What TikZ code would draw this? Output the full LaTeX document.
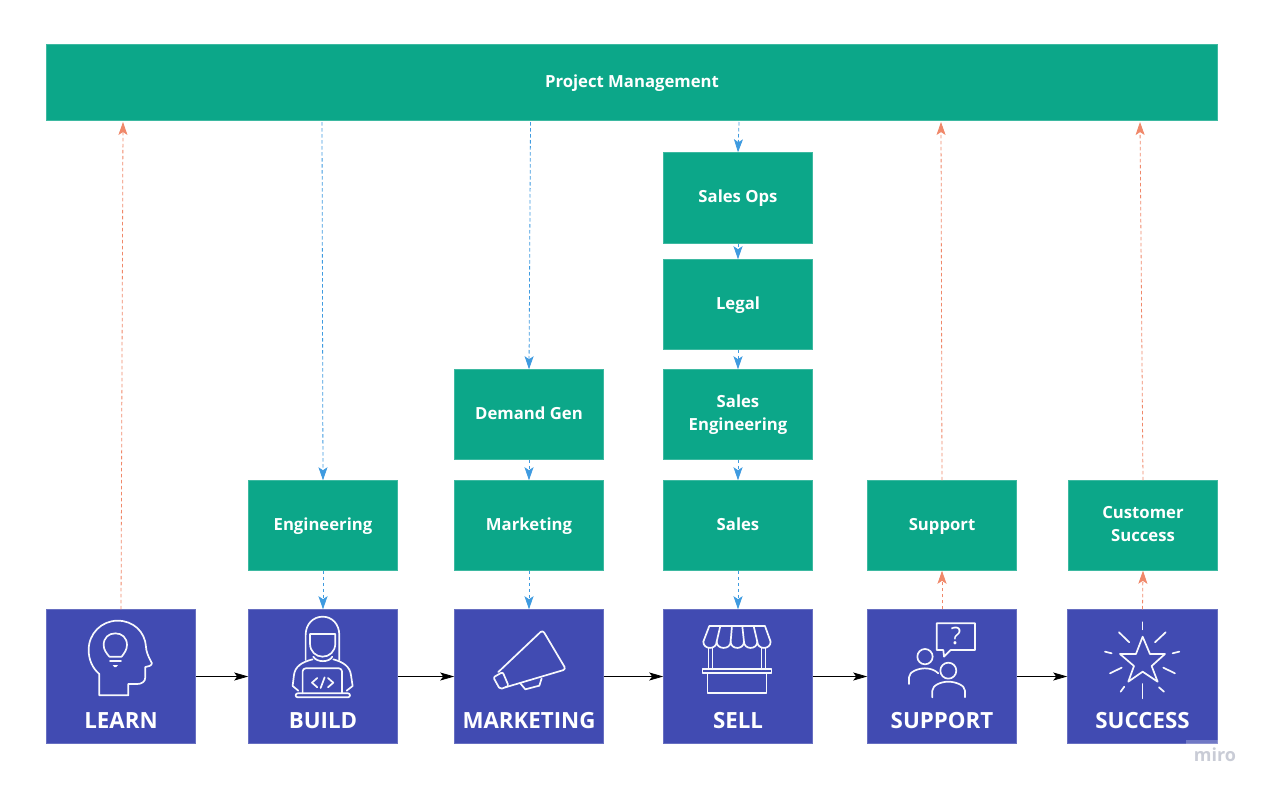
\documentclass[tikz,border=0pt]{standalone}
\usepackage{fontspec}
\setmainfont{Open Sans}
\usetikzlibrary{arrows.meta}
\definecolor{gr}{HTML}{0CA789}
\definecolor{bl}{HTML}{414BB2}
\definecolor{arrB}{HTML}{3F9BE0}
\definecolor{arrO}{HTML}{F0886A}
\definecolor{mir}{HTML}{C9CCD6}
\newcommand{\lnst}{\rule[-7pt]{0pt}{23pt}}
\tikzset{
 gbox/.style={fill=gr,draw=gr!80!white,line width=.5pt,text=white,inner sep=0pt,align=center,font=\bfseries\fontsize{16.7}{23}\selectfont,minimum width=149pt,minimum height=90pt},
 bbox/.style={fill=bl,draw=bl!80!white,line width=.5pt,inner sep=0pt,minimum width=149pt,minimum height=134pt},
 blabel/.style={text=white,inner sep=0pt,font=\bfseries\fontsize{22.3}{26}\selectfont},
 down/.style={draw=arrB,line width=.8pt,dash pattern=on 3.5pt off 2.5pt,-{Stealth[length=13pt,width=9pt,inset=3pt]}},
 upar/.style={draw=arrO,line width=.8pt,dash pattern=on 3.5pt off 2.5pt,-{Stealth[length=13pt,width=9pt,inset=3pt]}},
 flow/.style={draw=black,line width=.8pt,-{Stealth[length=14pt,width=8pt,inset=3pt]}},
 icon/.style={draw=white!96!bl,line width=1.7pt,line join=round,line cap=round,x=.3333pt,y=-.3333pt},
}
\begin{document}
\begin{tikzpicture}[x=1pt,y=-1pt]
\useasboundingbox (0,0) rectangle (1264,790);
\fill[white] (0,0) rectangle (1264,790);
% Top bar
\node[gbox,minimum width=1171pt,minimum height=76pt] (pm) at (632,82.5) {\lnst Project Management};
% Green boxes
\node[gbox] (eng) at (323,525.5) {\lnst Engineering};
\node[gbox] (dem) at (529,414.5) {\lnst Demand Gen};
\node[gbox] (mkt) at (529,525.5) {\lnst Marketing};
\node[gbox,minimum height=91pt] (ops) at (738,198) {\lnst Sales Ops};
\node[gbox] (leg) at (738,304.5) {\lnst Legal};
\node[gbox] (seng) at (738,414.5) {\lnst Sales\\\lnst Engineering};
\node[gbox] (sal) at (738,525.5) {\lnst Sales};
\node[gbox] (sup) at (942,525.5) {\lnst Support};
\node[gbox] (cs) at (1143,525.5) {\lnst Customer\\\lnst Success};
% Blue boxes
\node[bbox] (learn) at (121,676.5) {};
\node[bbox] (build) at (323,676.5) {};
\node[bbox] (mark) at (529,676.5) {};
\node[bbox] (sell) at (738,676.5) {};
\node[bbox] (supp) at (942,676.5) {};
\node[bbox,minimum width=150pt] (succ) at (1142.5,676.5) {};
\node[blabel] (learnT) at (121,720.5) {LEARN};
\node[blabel] (buildT) at (323,720.5) {BUILD};
\node[blabel] (markT) at (529,720.5) {MARKETING};
\node[blabel] (sellT) at (738,720.5) {SELL};
\node[blabel] (suppT) at (942,720.5) {SUPPORT};
\node[blabel] (succT) at (1142.5,720.5) {SUCCESS};
% Free ends on the top bar
\coordinate (pmE) at (322,122);
\coordinate (pmM) at (530.5,122);
\coordinate (pmS) at (739,122);
\coordinate (pmL) at (123,122);
\coordinate (pmU) at (941,122);
\coordinate (pmC) at (1140,122);
% Flow arrows
\draw[flow] (learn) -- (build);
\draw[flow] (build) -- (mark);
\draw[flow] (mark) -- (sell);
\draw[flow] (sell) -- (supp);
\draw[flow] (supp) -- (succ);
% Blue dashed
\draw[down] (pmE) -- (eng.north);
\draw[down] (eng.south) -- (build.north);
\draw[down] (pmM) -- (dem.north);
\draw[down] (dem.south) -- (mkt.north);
\draw[down] (mkt.south) -- (mark.north);
\draw[down] (pmS) -- (ops.north);
\draw[down] (ops.south) -- (leg.north);
\draw[down] (leg.south) -- (seng.north);
\draw[down] (seng.south) -- (sal.north);
\draw[down] (sal.south) -- (sell.north);
% Orange dashed
\draw[upar] (learn.north) -- (pmL);
\draw[upar] (supp.north) -- (sup.south);
\draw[upar] (sup.north) -- (pmU);
\draw[upar] (succ.north) -- (cs.south);
\draw[upar] (cs.north) -- (pmC);
% LEARN and BUILD icons
\begin{scope}[shift={(40,600)}]
\draw[icon] (178,286) -- (178,222) .. controls (158,205) and (146,180) .. (146,150)
 .. controls (146,100) and (185,62) .. (233,62)
 .. controls (280,62) and (315,95) .. (318,140)
 .. controls (318,150) and (322,165) .. (336,190)
 .. controls (335,197) and (325,200) .. (316,201) -- (316,232)
 .. controls (316,245) and (305,252) .. (292,252) -- (265,252) -- (265,286) -- cycle;
\draw[icon] (208,170) .. controls (200,160) and (191,150) .. (191,135)
 .. controls (191,113) and (206,100) .. (226,100)
 .. controls (246,100) and (261,113) .. (261,135)
 .. controls (261,150) and (252,160) .. (245,170) -- cycle;
\draw[icon] (210,184) -- (243,184);
\fill[white,x=.3333pt,y=-.3333pt] (218,195) -- (234,195) -- (229,201) -- (223,201) -- cycle;
\draw[icon] (797,180) -- (797,105) .. controls (797,72) and (820,50) .. (848,50)
 .. controls (876,50) and (898,72) .. (898,105) -- (898,180);
\draw[icon] (810,102) -- (886,102) -- (886,130) .. controls (886,155) and (868,170) .. (848,170)
 .. controls (828,170) and (810,155) .. (810,130) -- cycle;
\draw[icon] (820,170) .. controls (830,188) and (868,188) .. (877,170);
\draw[icon] (818,178) .. controls (785,186) and (765,200) .. (762,225) -- (758,258) -- (775,272);
\draw[icon] (880,178) .. controls (910,186) and (930,200) .. (933,225) -- (938,258) -- (920,272);
\draw[icon,rounded corners=3pt] (788,280) -- (788,205) -- (906,205) -- (906,280);
\draw[icon,rounded corners=2pt] (767,280) -- (930,280) -- (930,292) -- (767,292) -- cycle;
\draw[icon] (832,234) -- (816,248) -- (832,262);
\draw[icon] (864,234) -- (880,248) -- (864,262);
\draw[icon] (854,232) -- (842,264);
\end{scope}
% MARKETING and SELL icons
\begin{scope}[shift={(450,600)}]
\draw[icon,rounded corners=3pt] (145,216) -- (278,90) -- (348,208) -- (166,262);
\draw[icon,rounded corners=2pt] (130,232) -- (158,216) -- (176,258) -- (150,268) -- cycle;
\draw[icon] (211,250) -- (226,268) -- (268,257) -- (275,235);
\draw[icon] (778,78) -- (945,78) -- (962,125) .. controls (962,150) and (922,150) .. (922,125)
 .. controls (922,150) and (882,150) .. (882,125) .. controls (882,150) and (842,150) .. (842,125)
 .. controls (842,150) and (800,150) .. (800,125) .. controls (800,150) and (760,150) .. (760,125) -- cycle;
\draw[icon] (800,125) -- (811,78);
\draw[icon] (842,125) -- (846,78);
\draw[icon] (882,125) -- (877,78);
\draw[icon] (922,125) -- (911,78);
\draw[icon] (776,144) -- (776,208);
\draw[icon] (788,144) -- (788,208);
\draw[icon] (935,144) -- (935,208);
\draw[icon] (947,144) -- (947,208);
\draw[icon] (758,208) rectangle (965,220);
\draw[icon] (773,220) -- (773,280) -- (950,280) -- (950,220);
\end{scope}
% SUPPORT and SUCCESS icons
\begin{scope}[shift={(860,600)}]
\draw[icon] (230,70) -- (345,70) -- (345,150) -- (272,150) -- (252,170) -- (250,150) -- (230,150) -- cycle;
\node[text=white,inner sep=0pt,font=\fontsize{24}{24}\selectfont] (qm) at (96,36) {?};
\draw[icon] (195,170) circle[radius=23];
\draw[icon] (147,252) -- (147,232) .. controls (147,215) and (175,205) .. (195,205) .. controls (210,205) and (225,210) .. (235,220);
\draw[icon] (265,212) circle[radius=24];
\draw[icon] (217,292) -- (217,272) .. controls (217,255) and (245,245) .. (265,245) .. controls (285,245) and (315,255) .. (315,272) -- (315,292);
\draw[icon] (848,110) -- (870,162) -- (915,162) -- (875,198) -- (893,245) -- (848,215) -- (805,245) -- (822,198) -- (780,162) -- (828,162) -- cycle;
\draw[icon] (848,67) -- (848,88);
\draw[icon] (885,127) -- (917,97);
\draw[icon] (938,160) -- (958,155);
\draw[icon] (910,203) -- (945,220);
\draw[icon] (897,262) -- (912,275);
\draw[icon] (848,252) -- (848,295);
\draw[icon] (782,275) -- (793,260);
\draw[icon] (750,220) -- (785,203);
\draw[icon] (735,155) -- (755,160);
\draw[icon] (777,97) -- (808,127);
\end{scope}
% Watermark
\fill[white,opacity=.25] (1185.5,739.5) rectangle (1218,744.5);
\node[text=mir,inner sep=0pt,font=\bfseries\fontsize{18}{18}\selectfont] (miro) at (1215,755) {miro};
\end{tikzpicture}
\end{document}
